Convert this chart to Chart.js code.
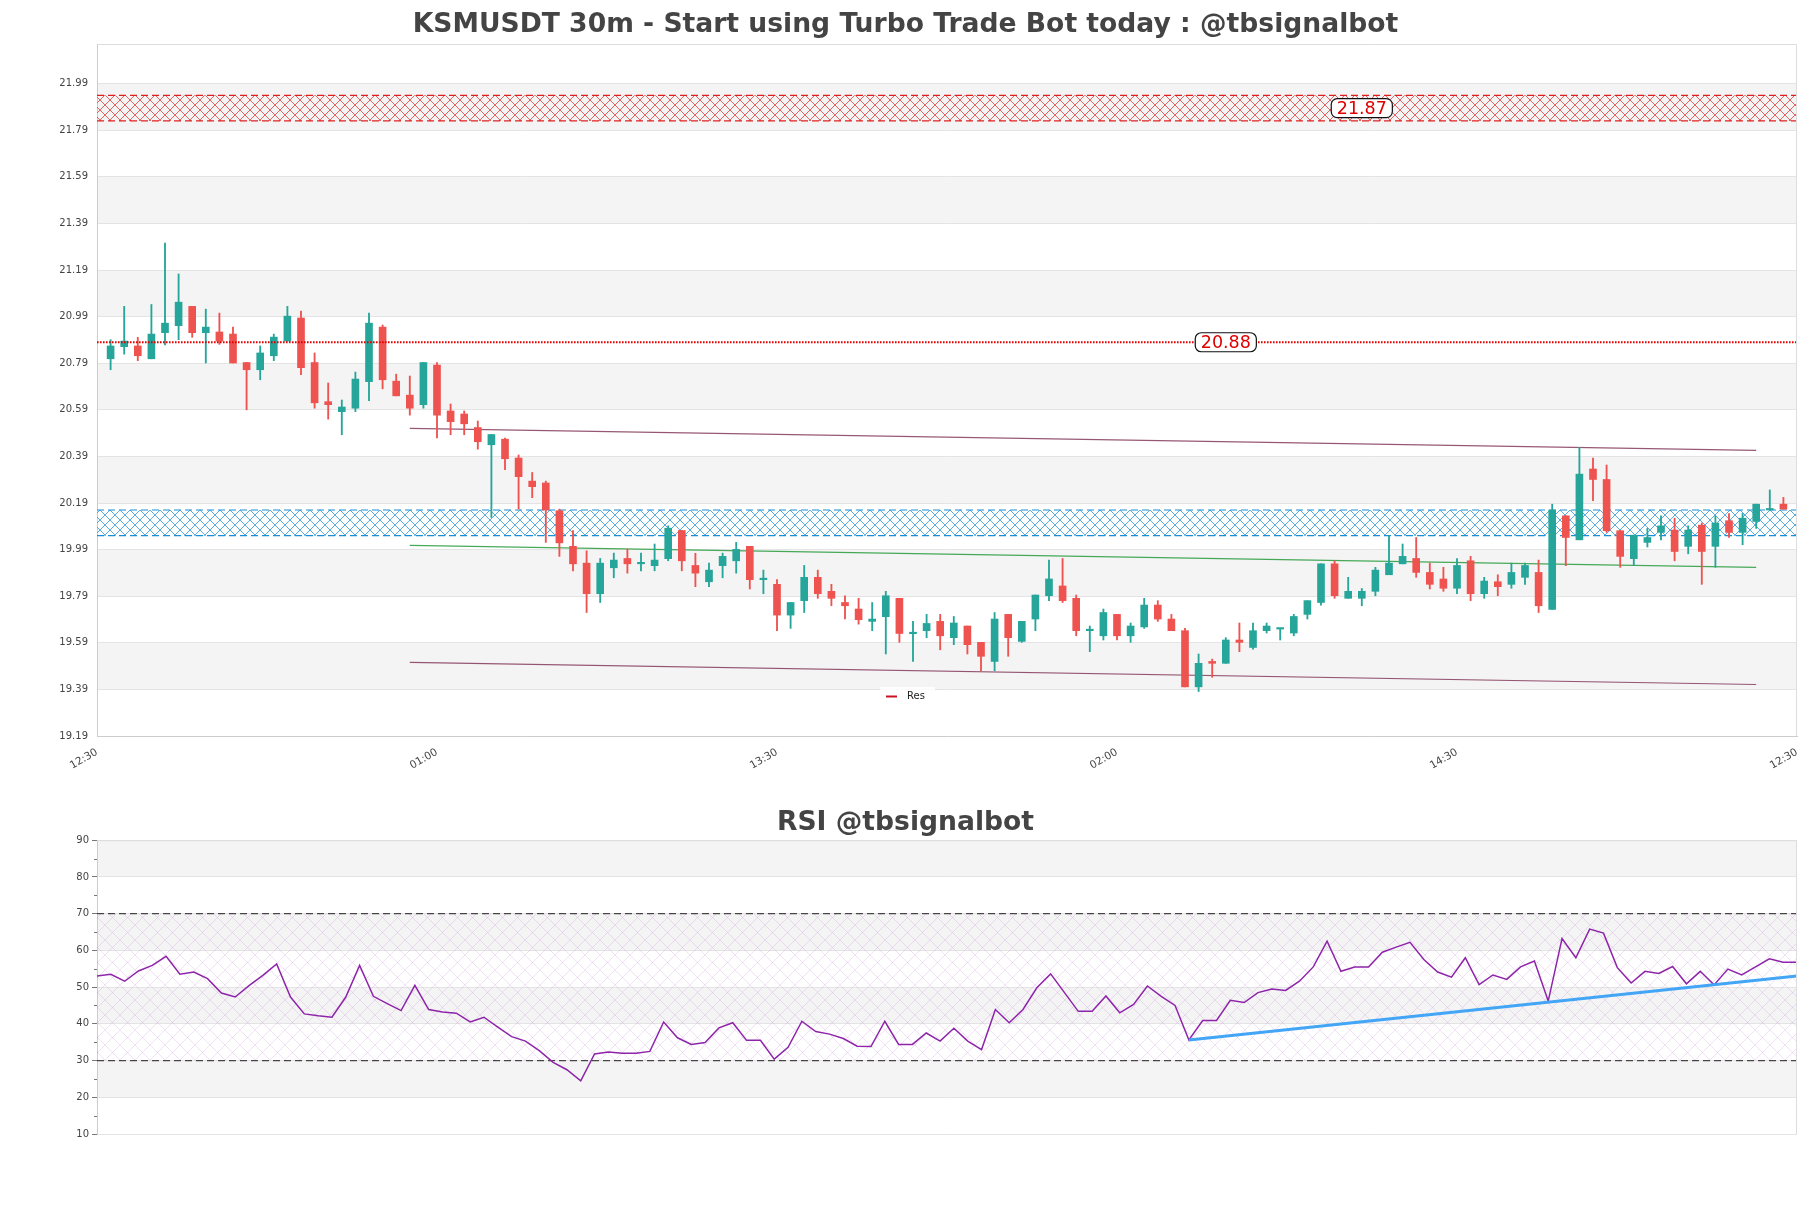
<!DOCTYPE html>
<html><head><meta charset="utf-8">
<script src="https://cdn.jsdelivr.net/npm/chart.js@4.4.0/dist/chart.umd.min.js"></script>
<style>
html,body{margin:0;padding:0;background:#fff;}
#wrap{position:relative;width:1811px;height:1208px;background:#fff;}
canvas{position:absolute;left:0;}
#c1{top:0}
#c2{top:790px}
</style></head><body>
<div id="wrap"><canvas id="c1" width="1811" height="790"></canvas><canvas id="c2" width="1811" height="418"></canvas></div>
<script>
// ---------------- DATA ----------------
const TITLE_MAIN = 'KSMUSDT 30m - Start using Turbo Trade Bot today : @tbsignalbot';
const TITLE_RSI = 'RSI @tbsignalbot';
const Y_TICKS = [19.19,19.39,19.59,19.79,19.99,20.19,20.39,20.59,20.79,20.99,21.19,21.39,21.59,21.79,21.99];
const X_TICK_LABELS = ['12:30','01:00','13:30','02:00','14:30','12:30'];
const X_TICK_POS = [0,25,50,75,100,125];

const OPEN = [20.809,20.861,20.864,20.809,20.921,20.951,21.034,20.921,20.924,20.915,20.793,20.762,20.822,20.885,20.984,20.793,20.625,20.582,20.597,20.711,
20.945,20.713,20.653,20.612,20.782,20.585,20.572,20.514,20.440,20.464,20.383,20.284,20.276,20.157,20.004,19.932,19.801,19.912,19.952,19.929,
19.921,19.951,20.072,19.922,19.852,19.921,19.942,20.004,19.861,19.841,19.709,19.771,19.871,19.811,19.763,19.735,19.682,19.702,19.781,19.629,
19.642,19.682,19.612,19.662,19.592,19.510,19.712,19.596,19.692,19.792,19.834,19.781,19.642,19.620,19.712,19.620,19.658,19.752,19.692,19.642,
19.401,19.510,19.502,19.602,19.570,19.642,19.649,19.632,19.712,19.763,19.929,19.781,19.781,19.811,19.882,19.929,19.952,19.892,19.864,19.824,
19.942,19.801,19.852,19.841,19.871,19.892,19.733,20.135,20.032,20.336,20.291,20.071,19.951,20.021,20.064,20.074,20.004,20.095,20.004,20.114,
20.064,20.111,20.160,20.185];
const HIGH = [20.891,21.034,20.901,21.042,21.306,21.173,21.034,21.022,21.005,20.945,20.793,20.864,20.915,21.034,21.014,20.834,20.705,20.632,20.752,21.005,
20.954,20.743,20.735,20.793,20.793,20.615,20.585,20.542,20.484,20.469,20.396,20.321,20.284,20.164,20.072,19.985,19.952,19.975,19.992,19.975,
20.014,20.092,20.072,19.974,19.932,19.975,20.021,20.004,19.902,19.861,19.763,19.922,19.902,19.841,19.792,19.781,19.763,19.811,19.781,19.682,
19.712,19.712,19.703,19.662,19.592,19.720,19.712,19.682,19.795,19.945,19.952,19.795,19.662,19.735,19.712,19.675,19.781,19.771,19.712,19.652,
19.542,19.520,19.612,19.675,19.675,19.675,19.652,19.712,19.771,19.929,19.942,19.871,19.823,19.914,20.050,20.014,20.042,19.932,19.914,19.952,
19.961,19.871,19.882,19.932,19.932,19.945,20.185,20.135,20.429,20.383,20.353,20.071,20.052,20.081,20.135,20.125,20.092,20.104,20.135,20.145,
20.145,20.185,20.246,20.214];
const LOW = [20.762,20.829,20.801,20.809,20.868,20.891,20.901,20.791,20.871,20.791,20.590,20.719,20.801,20.885,20.741,20.597,20.550,20.483,20.582,20.629,
20.680,20.650,20.567,20.597,20.469,20.483,20.483,20.421,20.128,20.333,20.164,20.213,20.021,19.961,19.899,19.720,19.763,19.869,19.889,19.899,
19.899,19.942,19.899,19.831,19.831,19.869,19.889,19.821,19.801,19.642,19.652,19.720,19.781,19.749,19.692,19.670,19.642,19.542,19.592,19.510,
19.612,19.560,19.582,19.542,19.470,19.470,19.532,19.592,19.642,19.771,19.763,19.620,19.552,19.602,19.602,19.592,19.652,19.682,19.642,19.401,
19.381,19.442,19.502,19.552,19.563,19.632,19.602,19.620,19.692,19.752,19.781,19.781,19.749,19.792,19.882,19.929,19.871,19.821,19.811,19.801,
19.771,19.781,19.792,19.824,19.841,19.720,19.733,19.921,20.032,20.200,20.064,19.914,19.921,20.001,20.032,19.942,19.972,19.841,19.914,20.042,
20.011,20.081,20.160,20.164];
const CLOSE = [20.864,20.885,20.822,20.915,20.962,21.052,20.921,20.945,20.885,20.791,20.762,20.834,20.902,20.992,20.771,20.620,20.612,20.602,20.722,20.962,
20.719,20.650,20.597,20.793,20.567,20.539,20.530,20.453,20.484,20.380,20.303,20.260,20.160,20.019,19.929,19.801,19.932,19.945,19.929,19.935,
19.945,20.082,19.942,19.889,19.902,19.961,19.991,19.861,19.864,19.709,19.763,19.871,19.801,19.781,19.749,19.689,19.692,19.792,19.630,19.632,
19.673,19.620,19.675,19.582,19.532,19.692,19.612,19.682,19.795,19.864,19.771,19.642,19.645,19.720,19.620,19.662,19.752,19.692,19.642,19.401,
19.502,19.502,19.602,19.592,19.642,19.662,19.652,19.703,19.771,19.929,19.792,19.811,19.811,19.902,19.932,19.961,19.892,19.841,19.824,19.922,
19.801,19.855,19.831,19.892,19.922,19.749,20.160,20.042,20.314,20.291,20.071,19.961,20.052,20.042,20.092,19.982,20.074,19.982,20.104,20.064,
20.125,20.185,20.163,20.164];

const RES_LEVEL = 20.88;
const RES_ZONE = [21.83, 21.94];
const SUP_ZONE = [20.05, 20.16];
const LEVEL_LABELS = ['21.87', '20.88'];
const LEVEL_LABEL_VALUES = [21.885, 20.88];
const CHANNEL_X = [23, 122];
const CHANNEL_UPPER = [20.51, 20.416];
const CHANNEL_MID = [20.008, 19.914];
const CHANNEL_LOWER = [19.506, 19.411];

const RSI = [53.0,53.5,51.6,54.4,55.9,58.4,53.5,54.1,52.3,48.4,47.3,50.4,53.2,56.3,47.3,42.7,42.2,41.8,47.3,55.9,
47.5,45.5,43.6,50.5,43.9,43.2,42.9,40.5,41.8,39.1,36.5,35.3,32.7,29.5,27.5,24.5,31.8,32.3,32.0,32.0,
32.5,40.5,36.2,34.4,34.9,38.9,40.3,35.5,35.5,30.4,33.6,40.7,37.9,37.2,36.0,33.9,33.8,40.7,34.4,34.4,
37.5,35.3,38.8,35.3,33.0,43.9,40.3,43.9,49.8,53.6,48.5,43.4,43.4,47.6,43.0,45.3,50.3,47.5,45.0,35.6,
40.9,40.9,46.4,45.8,48.5,49.5,49.1,51.6,55.5,62.5,54.3,55.5,55.5,59.5,60.9,62.2,57.5,54.1,52.7,58.0,
50.7,53.3,52.1,55.5,57.1,46.2,63.2,58.0,65.8,64.7,55.3,51.1,54.3,53.7,55.6,50.9,54.3,50.6,54.9,53.3,
55.5,57.7,56.8,56.8];
const RSI_TREND_X = [79, 123];
const RSI_TREND_Y = [35.6, 53.0];
const RSI_LEVELS = [70, 30];
const RSI_TICKS = [10,20,30,40,50,60,70,80,90];

// ---------------- STYLE ----------------
Chart.defaults.font.family = "'DejaVu Sans', 'Liberation Sans', sans-serif";
const UP = '#26a69a', DOWN = '#ef5350';
const GRID = '#e4e4e4', BAND = '#f4f4f4', AXIS = '#cccccc', TXT = '#444444';
const SIDE = 14;

function hatch(ctx, color, size, lw){
  const c = document.createElement('canvas'); c.width = size; c.height = size;
  const g = c.getContext('2d'); g.strokeStyle = color; g.lineWidth = lw;
  g.beginPath();
  g.moveTo(0,0); g.lineTo(size,size);
  g.moveTo(size,0); g.lineTo(0,size);
  g.stroke();
  return ctx.createPattern(c, 'repeat');
}

const bandPlugin = {
  id: 'bands',
  beforeDraw(chart, args, opts){
    const {ctx, chartArea: ca} = chart; const y = chart.scales.y;
    ctx.save(); ctx.fillStyle = opts.color;
    opts.ranges.forEach(([a,b]) => {
      const y1 = y.getPixelForValue(b), y2 = y.getPixelForValue(a);
      ctx.fillRect(ca.left, y1, ca.right - ca.left, y2 - y1);
    });
    ctx.restore();
  }
};
const framePlugin = {
  id: 'frame',
  afterDraw(chart){
    const {ctx, chartArea: ca} = chart;
    ctx.save(); ctx.strokeStyle = '#dddddd'; ctx.lineWidth = 1;
    ctx.beginPath();
    ctx.moveTo(ca.left, ca.top + 0.5); ctx.lineTo(ca.right - 0.5, ca.top + 0.5); ctx.lineTo(ca.right - 0.5, ca.bottom);
    ctx.stroke(); ctx.restore();
  }
};

function roundBox(ctx, cx, cy, text){
  ctx.save();
  ctx.font = '17.5px "DejaVu Sans"';
  const w = ctx.measureText(text).width + 11, h = 19;
  ctx.beginPath(); ctx.roundRect(cx - w/2, cy - h/2, w, h, 6);
  ctx.fillStyle = '#ffffff'; ctx.fill();
  ctx.lineWidth = 1.2; ctx.strokeStyle = '#111111'; ctx.stroke();
  ctx.fillStyle = '#e00000'; ctx.textAlign = 'center'; ctx.textBaseline = 'middle';
  ctx.fillText(text, cx, cy + 1);
  ctx.restore();
}

const labelPlugin = {
  id: 'levelLabels',
  afterDraw(chart, args, opts){
    const {ctx, chartArea: ca} = chart; const x = chart.scales.x, y = chart.scales.y;
    LEVEL_LABELS.forEach((t, i) => roundBox(ctx, x.getPixelForValue(opts.at[i]), y.getPixelForValue(LEVEL_LABEL_VALUES[i]), t));
    // legend
    const ds = chart.data.datasets.find(d => d.label === 'Res');
    const lx = ca.left + opts.legendX, ly = ca.bottom - opts.legendDy;
    ctx.save();
    ctx.fillStyle = 'rgba(255,255,255,0.85)';
    ctx.fillRect(lx - 6, ly - 9, 55, 18);
    ctx.strokeStyle = ds.legendColor; ctx.lineWidth = 2;
    ctx.beginPath(); ctx.moveTo(lx, ly + 0.5); ctx.lineTo(lx + 11, ly + 0.5); ctx.stroke();
    ctx.fillStyle = '#222'; ctx.font = '10px "DejaVu Sans"'; ctx.textBaseline = 'middle'; ctx.textAlign = 'left';
    ctx.fillText(ds.label, lx + 21, ly);
    ctx.restore();
  }
};

// ---------------- MAIN CHART ----------------
const ctx1 = document.getElementById('c1').getContext('2d');
const redPat = hatch(ctx1, 'rgba(220,30,30,0.85)', 10, 0.8);
const bluePat = hatch(ctx1, 'rgba(25,140,210,0.9)', 10, 0.8);

const bodies = OPEN.map((o, i) => ({x: i + 1, y: [o, CLOSE[i]]}));
const wicks = OPEN.map((o, i) => ({x: i + 1, y: [LOW[i], HIGH[i]]}));
const cColors = OPEN.map((o, i) => CLOSE[i] >= o ? UP : DOWN);
const span = v => [{x: X_TICK_POS[0], y: v}, {x: X_TICK_POS[X_TICK_POS.length - 1], y: v}];
const seg = (ys) => [{x: CHANNEL_X[0], y: ys[0]}, {x: CHANNEL_X[1], y: ys[1]}];
const lineBase = {type: 'line', pointRadius: 0, tension: 0, fill: false};

const priceBands = [];
for (let i = 1; i + 1 < Y_TICKS.length; i += 2) priceBands.push([Y_TICKS[i], Y_TICKS[i + 1]]);

new Chart(ctx1, {
  type: 'bar',
  data: {
    datasets: [
      {...lineBase, label: 'rz1', data: span(RES_ZONE[1]), borderColor: '#e02020', borderWidth: 1.2, borderDash: [7,4], order: 20},
      {...lineBase, label: 'rz0', data: span(RES_ZONE[0]), borderColor: '#e02020', borderWidth: 1.2, borderDash: [7,4], fill: '-1', backgroundColor: redPat, order: 20},
      {...lineBase, label: 'sz1', data: span(SUP_ZONE[1]), borderColor: '#1a8fd6', borderWidth: 1.2, borderDash: [7,4], order: 20},
      {...lineBase, label: 'sz0', data: span(SUP_ZONE[0]), borderColor: '#1a8fd6', borderWidth: 1.2, borderDash: [7,4], fill: '-1', backgroundColor: bluePat, order: 20},
      {...lineBase, label: 'up', data: seg(CHANNEL_UPPER), borderColor: 'rgba(125,45,80,0.8)', borderWidth: 1.2, order: 8},
      {...lineBase, label: 'mid', data: seg(CHANNEL_MID), borderColor: 'rgba(50,160,70,0.9)', borderWidth: 1.2, order: 8},
      {...lineBase, label: 'low', data: seg(CHANNEL_LOWER), borderColor: 'rgba(125,45,80,0.8)', borderWidth: 1.2, order: 8},
      {...lineBase, label: 'Res', data: span(RES_LEVEL), borderColor: '#e00000', borderWidth: 2, borderDash: [1.6,1.4], legendColor: '#cc1122', order: 0},
      {type: 'bar', label: 'wick', data: wicks, backgroundColor: cColors, barThickness: 1.2, grouped: false, borderWidth: 0, order: 2},
      {type: 'bar', label: 'body', data: bodies, backgroundColor: cColors, barThickness: 7, minBarLength: 1.5, grouped: false, borderWidth: 0, order: 1}
    ]
  },
  options: {
    responsive: false, animation: false, events: [],
    layout: {padding: {top: 0, right: SIDE, bottom: 0, left: SIDE}},
    plugins: {
      legend: {display: false}, tooltip: {enabled: false},
      title: {display: true, text: TITLE_MAIN, color: TXT, font: {size: 26.6, weight: 'bold'}, padding: {top: 9.5, bottom: 2.6}},
      bands: {color: BAND, ranges: priceBands},
      levelLabels: {at: [93, 83], legendX: 789, legendDy: 40}
    },
    scales: {
      x: {
        type: 'linear', min: X_TICK_POS[0], max: X_TICK_POS[X_TICK_POS.length - 1], offset: false,
        grid: {display: false, offset: false},
        border: {display: true, color: AXIS},
        afterBuildTicks: s => { s.ticks = X_TICK_POS.map(v => ({value: v})); },
        afterFit: s => { s.height = 54; },
        ticks: {autoSkip: false, maxRotation: 30, minRotation: 30, color: TXT, font: {size: 10.5}, padding: 2,
          callback: (v, i) => X_TICK_LABELS[i]}
      },
      y: {
        type: 'linear', min: 19.19, max: 22.16,
        afterBuildTicks: s => { s.ticks = Y_TICKS.map(v => ({value: v})); },
        afterFit: s => { s.width = 97 - SIDE; },
        grid: {color: GRID, tickLength: 6, tickColor: 'rgba(0,0,0,0)'},
        border: {color: AXIS},
        ticks: {color: TXT, font: {size: 10}, padding: 3, callback: v => Number(v).toFixed(2)}
      }
    }
  },
  plugins: [bandPlugin, framePlugin, labelPlugin]
});

// ---------------- RSI CHART ----------------
const ctx2 = document.getElementById('c2').getContext('2d');
const purplePat = hatch(ctx2, 'rgba(185,120,210,0.28)', 15, 0.8);
const rsiPts = RSI.map((v, i) => ({x: i, y: v}));
const rsiSpan = v => [{x: 0, y: v}, {x: RSI.length - 1, y: v}];
const rsiBands = [];
for (let i = 1; i + 1 < RSI_TICKS.length; i += 2) rsiBands.push([RSI_TICKS[i], RSI_TICKS[i + 1]]);

const minorTicks = {
  id: 'minorTicks',
  afterDraw(chart){
    const {ctx, chartArea: ca} = chart; const y = chart.scales.y;
    ctx.save(); ctx.strokeStyle = '#777'; ctx.lineWidth = 1;
    for (let i = 0; i + 1 < RSI_TICKS.length; i++) {
      const py = Math.round(y.getPixelForValue((RSI_TICKS[i] + RSI_TICKS[i + 1]) / 2)) + 0.5;
      ctx.beginPath(); ctx.moveTo(ca.left - 3, py); ctx.lineTo(ca.left, py); ctx.stroke();
    }
    ctx.restore();
  }
};

new Chart(ctx2, {
  type: 'line',
  data: {
    datasets: [
      {...lineBase, label: 'ob', data: rsiSpan(RSI_LEVELS[0]), borderColor: 'rgba(30,30,30,0.8)', borderWidth: 1.2, borderDash: [7,4], order: 10},
      {...lineBase, label: 'os', data: rsiSpan(RSI_LEVELS[1]), borderColor: 'rgba(30,30,30,0.8)', borderWidth: 1.2, borderDash: [7,4], fill: '-1', backgroundColor: purplePat, order: 10},
      {...lineBase, label: 'RSI', data: rsiPts, borderColor: '#8e24aa', borderWidth: 1.5, order: 2},
      {...lineBase, label: 'trend', data: RSI_TREND_X.map((x, i) => ({x, y: RSI_TREND_Y[i]})), borderColor: '#42a5f5', borderWidth: 3, order: 1}
    ]
  },
  options: {
    responsive: false, animation: false, events: [],
    layout: {padding: {top: 0, right: SIDE, bottom: 74, left: SIDE}},
    plugins: {
      legend: {display: false}, tooltip: {enabled: false},
      title: {display: true, text: TITLE_RSI, color: TXT, font: {size: 26.6, weight: 'bold'}, padding: {top: 17, bottom: 1.3}},
      bands: {color: BAND, ranges: rsiBands}
    },
    scales: {
      x: {type: 'linear', min: 0, max: RSI.length - 1, display: false},
      y: {
        type: 'linear', min: RSI_TICKS[0], max: RSI_TICKS[RSI_TICKS.length - 1],
        afterBuildTicks: s => { s.ticks = RSI_TICKS.map(v => ({value: v})); },
        afterFit: s => { s.width = 97 - SIDE; },
        grid: {color: GRID, tickLength: 5, tickColor: '#777'},
        border: {color: AXIS},
        ticks: {color: TXT, font: {size: 10}, padding: 3}
      }
    }
  },
  plugins: [bandPlugin, framePlugin, minorTicks]
});
</script>
</body></html>
